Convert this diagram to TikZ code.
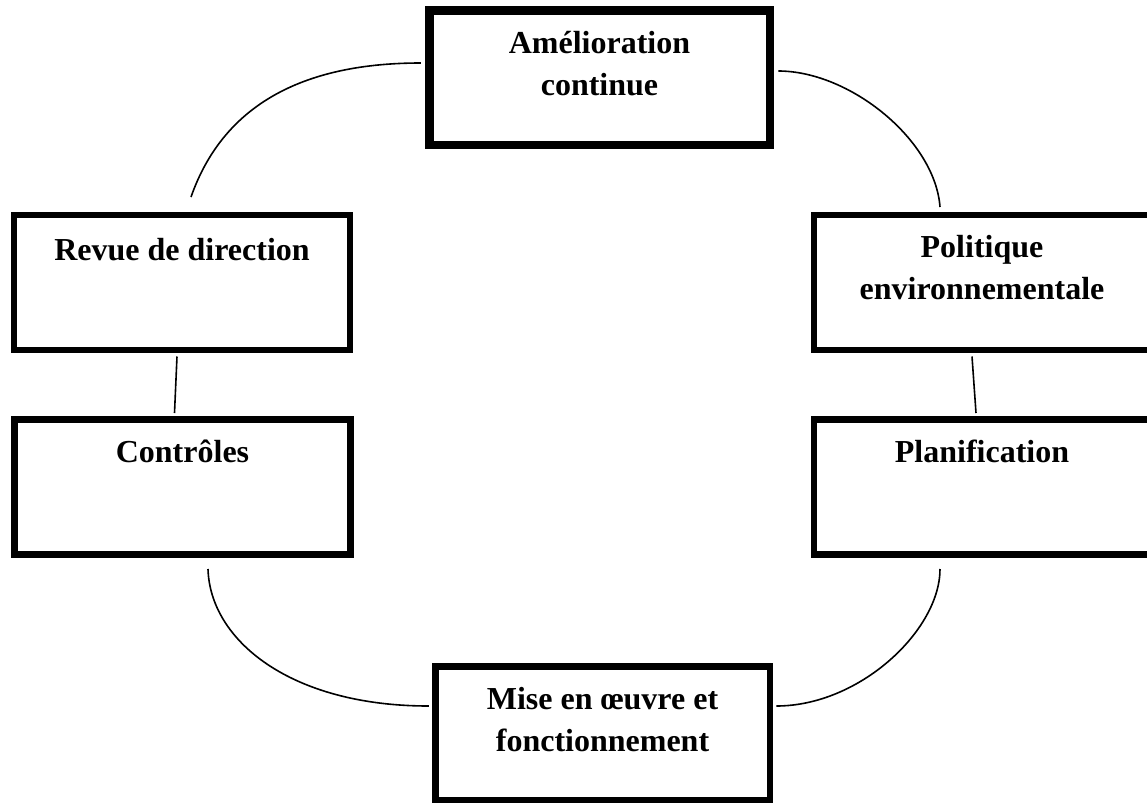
\documentclass[tikz,border=0pt]{standalone}
\usepackage{fontspec}
\setmainfont{Liberation Serif}
\begin{document}
\begin{tikzpicture}[x=1pt,y=-1pt,
  box/.style={draw, fill=white, line width=6.5pt, inner sep=0pt,
    minimum width=336pt, minimum height=135pt},
  topbox/.style={box, line width=8.5pt, minimum width=340.5pt, minimum height=134.5pt},
  lbl/.style={font=\fontsize{32}{42}\selectfont\bfseries, align=center,
    inner sep=0pt, anchor=base},
  link/.style={line width=1.6pt}]
\useasboundingbox (0,0) rectangle (1147,803);

% frames
\node[topbox] (amel) at (599.5,77.5) {};
\node[box] (revue) at (182,282.5) {};
\node[box] (ctrl) at (182.5,487) {};
\node[box] (poli) at (982,282.5) {};
\node[box] (plan) at (982,487) {};
\node[box, minimum width=334.5pt, minimum height=133.5pt] (mise) at (602.5,733) {};

% titles, set near the top of each frame (base = baseline of the last line)
\node[lbl] (tamel) at (599.5,95) {Amélioration\\continue};
\node[lbl] (trevue) at (182,260) {Revue de direction};
\node[lbl] (tctrl) at (182.5,462) {Contrôles};
\node[lbl] (tpoli) at (982,299) {Politique\\environnementale};
\node[lbl] (tplan) at (982,462) {Planification};
\node[lbl] (tmise) at (602.5,751) {Mise en œuvre et\\fonctionnement};

% straight links
\draw[link] ([xshift=-5pt,yshift=-3.25pt]revue.south) -- ([xshift=-8pt,yshift=3.25pt]ctrl.north);
\draw[link] ([xshift=-10pt,yshift=-3.25pt]poli.south) -- ([xshift=-6pt,yshift=3.25pt]plan.north);

% curved links
\coordinate (tl) at (191,197);
\coordinate (tr) at (940,207);
\coordinate (bl) at (208,569);
\coordinate (br) at (940,569);
\draw[link] (tl) .. controls (225,100) and (310,63) .. ([xshift=-4.25pt,yshift=14.5pt]amel.west);
\draw[link] ([xshift=4.25pt,yshift=6.5pt]amel.east) .. controls (850,71) and (935,140) .. (tr);
\draw[link] (bl) .. controls (210,640) and (290,706) .. ([xshift=-3.25pt,yshift=27pt]mise.west);
\draw[link] ([xshift=3.25pt,yshift=27pt]mise.east) .. controls (860,706) and (940,630) .. (br);
\end{tikzpicture}
\end{document}
